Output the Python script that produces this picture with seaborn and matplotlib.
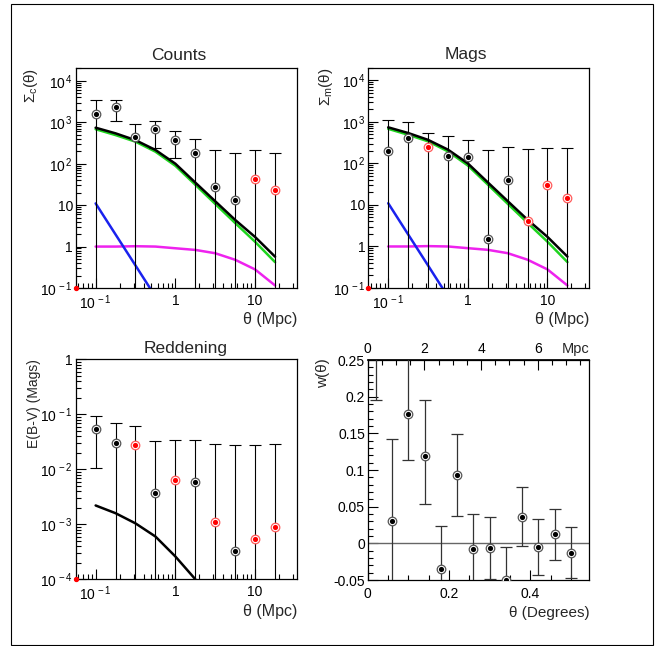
import numpy as np
import pandas as pd
import matplotlib
matplotlib.use("Agg")
import matplotlib.pyplot as plt
import matplotlib.ticker as mticker
from matplotlib.patches import Rectangle
import seaborn as sns

# ---------------- data ----------------
theta_mpc = [0.1, 0.178, 0.316, 0.562, 1.0, 1.78, 3.16, 5.62, 10.0, 17.8]

counts_val = [1580, 2300, 450, 680, 380, 185, 28, 13.5, 42, 23.5]
counts_hi = [3400, 3400, 930, 1090, 630, 390, 210, 178, 210, 178]
counts_lo = [1e-6, 1100, 1e-6, 245, 140, 1e-6, 1e-6, 1e-6, 1e-6, 1e-6]
counts_red = [0, 0, 0, 0, 0, 0, 0, 0, 1, 1]

mags_val = [195, 400, 245, 150, 140, 1.5, 41, 4.1, 31, 15]
mags_hi = [1120, 1000, 540, 470, 365, 215, 245, 222, 240, 230]
mags_lo = [1e-6] * 10
mags_red = [0, 0, 1, 0, 0, 0, 0, 1, 1, 1]

redd_val = [0.053, 0.030, 0.0277, 0.0037, 0.0064, 0.0059, 0.00112, 0.00033, 0.00053, 0.00089]
redd_hi = [0.093, 0.070, 0.061, 0.033, 0.034, 0.034, 0.029, 0.028, 0.028, 0.029]
redd_lo = [0.0107, 1e-9, 1e-9, 1e-9, 1e-9, 1e-9, 1e-9, 1e-9, 1e-9, 1e-9]
redd_red = [0, 0, 1, 0, 1, 0, 1, 0, 1, 1]

model_total = [740, 540, 370, 215, 100, 35, 12.4, 4.4, 1.7, 0.57]
model_green = [680, 490, 340, 195, 89, 31, 10.7, 3.7, 1.3, 0.42]
model_blue_x = [0.1, 0.178, 0.316, 0.562]
model_blue = [11, 1.95, 0.35, 0.062]
model_magenta = [1.0, 1.0, 1.02, 1.0, 0.91, 0.83, 0.69, 0.48, 0.28, 0.115]

redd_model_x = [0.1, 0.178, 0.316, 0.562, 1.0, 1.78]
redd_model = [0.0022, 0.00159, 0.00104, 0.0006, 0.00026, 0.0001]

w_deg = [0.02, 0.06, 0.10, 0.14, 0.18, 0.22, 0.26, 0.30, 0.34, 0.38, 0.42, 0.46, 0.50]
w_val = [0.32, 0.031, 0.177, 0.119, -0.0355, 0.093, -0.008, -0.0068, -0.05, 0.0355, -0.0045, 0.0123, -0.0127]
w_hi = [0.45, 0.142, 0.27, 0.196, 0.024, 0.149, 0.0395, 0.0364, -0.0045, 0.0764, 0.0336, 0.047, 0.0227]
w_lo = [0.195, -0.1, 0.113, 0.054, -0.1, 0.037, -0.1, -0.049, -0.1, -0.0032, -0.043, -0.0227, -0.0477]
mpc_per_deg = 14.35

# ---------------- style ----------------
sns.set_theme(style="white")
plt.rcParams["font.family"] = ["Liberation Sans", "DejaVu Sans"]
plt.rcParams["mathtext.fontset"] = "custom"
plt.rcParams["mathtext.rm"] = "Liberation Sans"
plt.rcParams["mathtext.it"] = "Liberation Sans:italic"
plt.rcParams["mathtext.default"] = "regular"
plt.rcParams["axes.unicode_minus"] = False

W, H = 657, 646
fig = plt.figure(figsize=(W / 100, H / 100), dpi=100)
fig.patch.set_facecolor("white")
fig.patches.append(Rectangle((11 / W, 1 - 645 / H), 642 / W, 641 / H,
                             transform=fig.transFigure, fill=False,
                             edgecolor="black", linewidth=0.8))


def px_axes(l, t, r, b):
    return fig.add_axes([l / W, 1 - b / H, (r - l) / W, (b - t) / H])


ax1 = px_axes(75.7, 68, 297, 288)
ax2 = px_axes(368.3, 67.5, 589.3, 288)
ax3 = px_axes(75.7, 359.3, 297, 579.3)
ax4 = px_axes(367.7, 360, 589.3, 580)

TICK_FS = 10


def logfmt(v, pos):
    e = int(round(np.log10(v)))
    if e == 0:
        return "1"
    if e == 1:
        return "10"
    return r"10$^{\,%d}$" % e


def style_box(ax):
    for s in ax.spines.values():
        s.set_color("black")
        s.set_linewidth(0.9)
    ax.set_facecolor("white")
    ax.tick_params(which="both", direction="in", top=False, right=False,
                   bottom=True, left=True, colors="black", labelsize=TICK_FS)
    ax.tick_params(which="major", length=7, width=0.8)
    ax.tick_params(which="minor", length=3.5, width=0.8)
    ax.set_xlabel("")
    ax.set_ylabel("")


def draw_points(ax, x, val, lo, hi, red):
    x = np.asarray(x, float)
    val = np.asarray(val, float)
    lo = np.asarray(lo, float)
    hi = np.asarray(hi, float)
    ax.errorbar(x, val, yerr=[val - lo, hi - val], fmt="none", ecolor="black",
                elinewidth=0.8, capsize=4, capthick=0.8, zorder=3)
    df = pd.DataFrame({"x": x, "y": val, "red": np.asarray(red, bool)})
    blk = df[~df.red]
    rd = df[df.red]
    sns.scatterplot(data=blk, x="x", y="y", ax=ax, s=38, marker="o",
                    facecolor="white", edgecolor="#555555", linewidth=0.9, zorder=5, legend=False)
    sns.scatterplot(data=blk, x="x", y="y", ax=ax, s=14, marker="o",
                    color="black", edgecolor="black", linewidth=0, zorder=6, legend=False)
    if len(rd):
        sns.scatterplot(data=rd, x="x", y="y", ax=ax, s=38, marker="o",
                        facecolor="white", edgecolor="#ff5a5a", linewidth=0.9, zorder=5, legend=False)
        sns.scatterplot(data=rd, x="x", y="y", ax=ax, s=14, marker="o",
                        color="red", edgecolor="red", linewidth=0, zorder=6, legend=False)


XLIM = (10 ** -1.25, 10 ** 1.525)


def log_panel(ax, ylim):
    ax.set_xscale("log")
    ax.set_yscale("log")
    ax.set_xlim(*XLIM)
    ax.set_ylim(*ylim)
    ax.xaxis.set_major_locator(mticker.LogLocator(base=10, numticks=10))
    ax.xaxis.set_minor_locator(mticker.LogLocator(base=10, subs=np.arange(2, 10), numticks=10))
    ax.yaxis.set_major_locator(mticker.LogLocator(base=10, numticks=12))
    ax.yaxis.set_minor_locator(mticker.LogLocator(base=10, subs=np.arange(2, 10), numticks=12))
    ax.xaxis.set_major_formatter(mticker.FuncFormatter(logfmt))
    ax.yaxis.set_major_formatter(mticker.FuncFormatter(logfmt))
    ax.xaxis.set_minor_formatter(mticker.NullFormatter())
    ax.yaxis.set_minor_formatter(mticker.NullFormatter())
    ax.tick_params(axis="x", pad=4)
    ax.tick_params(axis="y", pad=2)
    ax.scatter([XLIM[0]], [ylim[0]], s=8, color="red", zorder=7, clip_on=False)


def model_lines(ax):
    mdf = pd.DataFrame({"x": theta_mpc, "tot": model_total, "grn": model_green, "mag": model_magenta})
    bdf = pd.DataFrame({"x": model_blue_x, "y": model_blue})
    sns.lineplot(data=mdf, x="x", y="grn", ax=ax, color="#1ed41e", linewidth=1.8, zorder=2)
    sns.lineplot(data=mdf, x="x", y="tot", ax=ax, color="black", linewidth=1.8, zorder=2.1)
    sns.lineplot(data=mdf, x="x", y="mag", ax=ax, color="#ee22ee", linewidth=1.8, zorder=2)
    sns.lineplot(data=bdf, x="x", y="y", ax=ax, color="#1a22ee", linewidth=1.8, zorder=2)


# ---- Counts ----
model_lines(ax1)
draw_points(ax1, theta_mpc, counts_val, counts_lo, counts_hi, counts_red)
log_panel(ax1, (0.1, 10 ** 4.31))
style_box(ax1)
ax1.text(0.465, 1.025, "Counts", transform=ax1.transAxes, ha="center", va="bottom", fontsize=12.5)
ax1.text(-0.2, 1.0, r"Σ$_{c}$(θ)", transform=ax1.transAxes, rotation=90,
         ha="center", va="top", fontsize=11)
ax1.text(1.0, -0.145, "θ (Mpc)", transform=ax1.transAxes, ha="right", va="center", fontsize=11.5)

# ---- Mags ----
model_lines(ax2)
draw_points(ax2, theta_mpc, mags_val, mags_lo, mags_hi, mags_red)
log_panel(ax2, (0.1, 10 ** 4.31))
style_box(ax2)
ax2.text(0.44, 1.025, "Mags", transform=ax2.transAxes, ha="center", va="bottom", fontsize=12.5)
ax2.text(-0.19, 1.0, r"Σ$_{m}$(θ)", transform=ax2.transAxes, rotation=90,
         ha="center", va="top", fontsize=11)
ax2.text(1.0, -0.145, "θ (Mpc)", transform=ax2.transAxes, ha="right", va="center", fontsize=11.5)

# ---- Reddening ----
rdf = pd.DataFrame({"x": redd_model_x, "y": redd_model})
sns.lineplot(data=rdf, x="x", y="y", ax=ax3, color="black", linewidth=1.8, zorder=2)
draw_points(ax3, theta_mpc, redd_val, redd_lo, redd_hi, redd_red)
log_panel(ax3, (1e-4, 1.0))
style_box(ax3)
ax3.text(0.496, 1.015, "Reddening", transform=ax3.transAxes, ha="center", va="bottom", fontsize=12.5)
ax3.text(-0.19, 1.0, "E(B-V) (Mags)", transform=ax3.transAxes, rotation=90,
         ha="center", va="top", fontsize=10)
ax3.text(1.0, -0.145, "θ (Mpc)", transform=ax3.transAxes, ha="right", va="center", fontsize=11.5)

# ---- w(theta) ----
ax4.axhline(0, color="#666666", linewidth=1.0, zorder=1)
wv = np.asarray(w_val)
ax4.errorbar(w_deg, wv, yerr=[wv - np.asarray(w_lo), np.asarray(w_hi) - wv], fmt="none",
             ecolor="#333333", elinewidth=0.9, capsize=4, capthick=0.9, zorder=3)
wdf = pd.DataFrame({"x": w_deg, "y": w_val})
sns.scatterplot(data=wdf, x="x", y="y", ax=ax4, s=38, marker="o", facecolor="white",
                edgecolor="#555555", linewidth=0.9, zorder=5, legend=False)
sns.scatterplot(data=wdf, x="x", y="y", ax=ax4, s=14, marker="o", color="black",
                edgecolor="black", linewidth=0, zorder=6, legend=False)
ax4.set_xlim(0, 0.545)
ax4.set_ylim(-0.05, 0.25)
style_box(ax4)
ax4.xaxis.set_major_locator(mticker.FixedLocator([0, 0.2, 0.4]))
ax4.xaxis.set_minor_locator(mticker.MultipleLocator(0.05))
ax4.xaxis.set_major_formatter(mticker.FixedFormatter(["0", "0.2", "0.4"]))
ax4.yaxis.set_major_locator(mticker.MultipleLocator(0.05))
ax4.yaxis.set_minor_locator(mticker.MultipleLocator(0.01))
ax4.yaxis.set_major_formatter(mticker.FuncFormatter(lambda v, p: "%g" % round(v, 3)))
ax4.tick_params(axis="x", pad=5)
ax4.tick_params(axis="y", pad=2)
sec = ax4.secondary_xaxis("top", functions=(lambda d: d * mpc_per_deg, lambda m: m / mpc_per_deg))
sec.xaxis.set_major_locator(mticker.FixedLocator([0, 2, 4, 6]))
sec.xaxis.set_minor_locator(mticker.MultipleLocator(0.5))
sec.xaxis.set_major_formatter(mticker.FixedFormatter(["0", "2", "4", "6"]))
sec.tick_params(which="both", direction="in", labelsize=TICK_FS, colors="black", pad=3)
sec.tick_params(which="major", length=7, width=0.8)
sec.tick_params(which="minor", length=3.5, width=0.8)
sec.spines["top"].set_color("black")
ax4.text(1.0, 1.02, "Mpc", transform=ax4.transAxes, ha="right", va="bottom", fontsize=10.5)
ax4.text(-0.2, 1.01, "w(θ)", transform=ax4.transAxes, rotation=90,
         ha="center", va="top", fontsize=11)
ax4.text(1.0, -0.152, "θ (Degrees)", transform=ax4.transAxes, ha="right", va="center", fontsize=11)

fig.savefig("out.png", dpi=100, facecolor="white")
